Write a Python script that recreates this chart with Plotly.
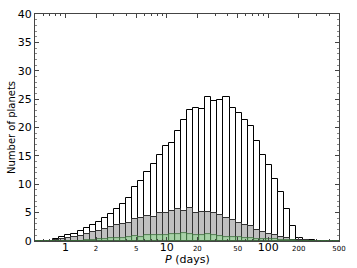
import numpy as np
import plotly.graph_objects as go

# 50 logarithmic bins between 0.5 and 500 days
p_min, p_max, n_bins = 0.5, 500.0, 50

all_counts = [0, 0, 0, 0.3, 0.77, 1.0, 1.3, 1.7, 2.3, 2.8,
              3.4, 4.0, 4.7, 5.6, 6.6, 7.6, 9.5, 10.6, 12.2, 13.6,
              15.1, 16.7, 17.2, 19.4, 21.3, 23.0, 23.5, 23.2, 25.3, 24.7,
              24.8, 25.3, 23.5, 22.6, 21.3, 20.3, 17.7, 15.2, 13.4, 10.9,
              8.6, 5.7, 2.7, 0.45, 0.2, 0.1, 0.05, 0.03, 0, 0]

gray_counts = [0, 0, 0, 0.15, 0.4, 0.5, 0.7, 0.95, 1.2, 1.5,
               1.8, 2.2, 2.5, 2.8, 3.05, 3.2, 3.8, 4.0, 4.45, 4.3,
               4.9, 5.0, 5.2, 5.6, 5.3, 5.75, 4.9, 5.05, 5.05, 4.95,
               4.6, 4.1, 3.65, 3.1, 2.9, 2.7, 1.9, 1.6, 1.3, 1.0,
               0.7, 0.45, 0.25, 0.15, 0.1, 0.08, 0.05, 0.03, 0.02, 0]

green_counts = [0, 0, 0, 0.03, 0.05, 0.05, 0.07, 0.08, 0.1, 0.2,
                0.3, 0.4, 0.45, 0.5, 0.6, 0.65, 0.8, 0.75, 1.05, 1.0,
                1.05, 1.1, 1.2, 1.2, 1.35, 1.3, 1.05, 1.1, 1.15, 1.0,
                0.9, 0.75, 0.75, 0.65, 0.6, 0.55, 0.4, 0.4, 0.35, 0.3,
                0.25, 0.2, 0.1, 0.05, 0, 0, 0, 0, 0, 0]

major_vals = [1, 2, 5, 10, 20, 50, 100, 200, 500]
major_text = ["1", "2", "5", "10", "20", "50", "100", "200", "500"]
big_labels = {"1", "10", "100"}
minor_vals = [0.5, 0.6, 0.7, 0.8, 0.9, 3, 4, 6, 7, 8, 9,
              30, 40, 60, 70, 80, 90, 300, 400]

edges = np.linspace(np.log10(p_min), np.log10(p_max), n_bins + 1)
centers = 0.5 * (edges[:-1] + edges[1:])
width = edges[1] - edges[0]

fig = go.Figure()
fig.add_trace(go.Bar(x=centers, y=all_counts, width=width,
                     marker=dict(color="white", line=dict(color="black", width=1))))
fig.add_trace(go.Bar(x=centers, y=gray_counts, width=width,
                     marker=dict(color="rgba(150,150,150,0.6)", line=dict(color="#333333", width=1))))
fig.add_trace(go.Bar(x=centers, y=green_counts, width=width,
                     marker=dict(color="rgba(150,220,150,0.6)", line=dict(color="#3a6a3a", width=0.8))))

ticktext = [t if t in big_labels else f'<span style="font-size:7px">{t}</span>' for t in major_text]

fig.update_layout(
    width=357, height=268,
    margin=dict(l=35, r=18, t=14, b=27),
    barmode="overlay", bargap=0,
    showlegend=False,
    plot_bgcolor="white", paper_bgcolor="white",
    font=dict(family="DejaVu Sans", size=11, color="black"),
    xaxis=dict(
        range=[np.log10(p_min), np.log10(p_max)],
        automargin=False,
        tickmode="array", tickvals=[np.log10(v) for v in major_vals], ticktext=ticktext,
        ticks="inside", ticklen=4, tickcolor="#444", tickwidth=1,
        ticklabelstandoff=-4,
        showline=True, linecolor="#444", linewidth=1, mirror="allticks",
        showgrid=False, zeroline=False,
        minor=dict(tickmode="array", tickvals=[np.log10(v) for v in minor_vals],
                   ticks="inside", ticklen=2, tickcolor="#444", showgrid=False),
        tickfont=dict(size=11),
    ),
    yaxis=dict(
        range=[0, 40],
        automargin=False,
        tickmode="linear", tick0=0, dtick=5,
        ticks="inside", ticklen=4, tickcolor="#444", tickwidth=1,
        showline=True, linecolor="#444", linewidth=1, mirror="allticks",
        showgrid=False, zeroline=False,
        minor=dict(dtick=1, ticks="inside", ticklen=2, tickcolor="#888", showgrid=False),
        title=dict(text="Number of planets", font=dict(size=10), standoff=0),
        tickfont=dict(size=11),
    ),
    annotations=[dict(text="<i>P</i> (days)", xref="paper", yref="paper",
                      x=0.5, y=-0.08, xanchor="center", yanchor="middle",
                      showarrow=False, font=dict(size=11))],
)

fig.write_html("out.html", config={"displayModeBar": False},
               post_script="document.body.style.margin='0px';")
